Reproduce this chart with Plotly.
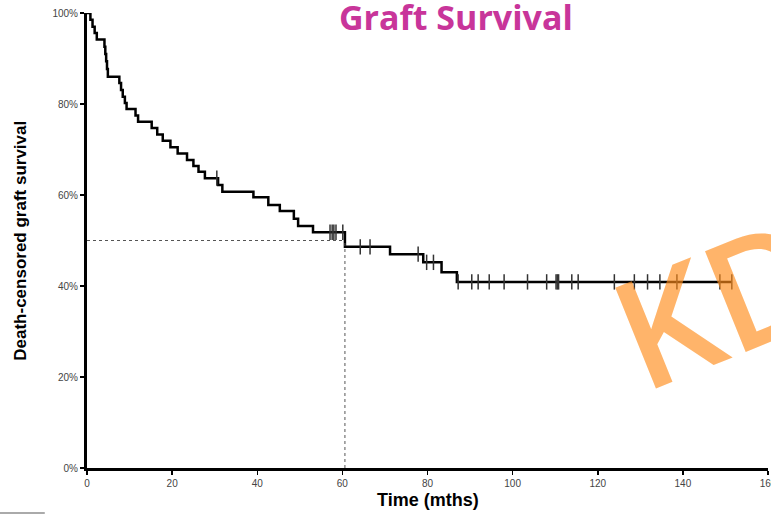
import plotly.graph_objects as go

# ---- data ----
step_times = [0.8, 1.3, 1.8, 2.3, 4.1, 4.3, 4.5, 4.7, 4.9, 7.6, 8.0, 8.4, 8.9, 9.3,
              11.4, 12.0, 15.2, 16.5, 17.8, 19.6, 21.3, 23.5, 25.0, 26.2, 27.7,
              30.8, 31.8, 39.1, 42.6, 45.3, 48.6, 49.6, 53.1, 60.6, 71.2, 79.0,
              83.3, 86.9]
step_surv = [98.5, 97.0, 95.6, 94.2, 92.6, 91.0, 89.4, 87.7, 86.0, 84.6, 83.1, 81.6,
             80.2, 78.9, 77.5, 76.1, 74.7, 73.3, 71.9, 70.5, 69.1, 67.7, 66.4, 65.1,
             63.7, 62.2, 60.7, 59.5, 57.8, 56.5, 54.8, 53.2, 51.8, 48.6, 47.0, 45.2,
             43.0, 40.9]
last_follow_up = 151.5

censor_times = [30.5, 57.1, 57.6, 58.0, 58.5, 60.1, 64.2, 66.5, 77.8, 79.8, 81.4,
                87.2, 90.4, 91.9, 94.5, 98.0, 103.5, 108.0, 110.2, 110.5, 110.8,
                113.9, 115.4, 123.9, 128.6, 131.7, 134.6, 138.6, 148.7, 151.5]
censor_surv = [63.7, 51.8, 51.8, 51.8, 51.8, 51.8, 48.6, 48.6, 47.0, 45.2, 45.2,
               40.9, 40.9, 40.9, 40.9, 40.9, 40.9, 40.9, 40.9, 40.9, 40.9,
               40.9, 40.9, 40.9, 40.9, 40.9, 40.9, 40.9, 40.9, 40.9]

median_time = 60.6
median_level = 50

x_ticks = [0, 20, 40, 60, 80, 100, 120, 140, 160]
y_ticks = [0, 20, 40, 60, 80, 100]
y_tick_labels = ["0%", "20%", "40%", "60%", "80%", "100%"]

title_text = "Graft Survival"
x_title = "Time (mths)"
y_title = "Death-censored graft survival"
watermark = "KD"

# ---- figure ----
curve_x = [0] + step_times + [last_follow_up]
curve_y = [100] + step_surv + [step_surv[-1]]

fig = go.Figure()

fig.add_trace(go.Scatter(
    x=curve_x, y=curve_y, mode="lines", line_shape="hv",
    line=dict(color="black", width=2.5), showlegend=False, hoverinfo="skip"))

fig.add_trace(go.Scatter(
    x=censor_times, y=censor_surv, mode="markers",
    marker=dict(symbol="line-ns", size=11, color="#333333",
                line=dict(color="#333333", width=1.5)),
    showlegend=False, hoverinfo="skip", cliponaxis=False))

# median dotted guides
fig.add_shape(type="line", xref="x", yref="y", x0=0, x1=median_time,
              y0=median_level, y1=median_level,
              line=dict(color="#555555", width=1, dash="dot"))
fig.add_shape(type="line", xref="x", yref="y", x0=median_time, x1=median_time,
              y0=0, y1=median_level,
              line=dict(color="#555555", width=1, dash="dot"))

tick_font = dict(family="Liberation Sans, Arial, sans-serif", size=10, color="#444444")

fig.update_xaxes(range=[0, 160], tickvals=x_ticks, ticks="outside", ticklen=4,
                 tickwidth=1.5, tickcolor="black", showline=True, linewidth=3,
                 linecolor="black", showgrid=False, zeroline=False,
                 tickfont=tick_font, automargin=False, ticklabeloverflow="allow")
fig.update_yaxes(range=[0, 100], tickvals=y_ticks, ticktext=y_tick_labels,
                 ticks="outside", ticklen=4, tickwidth=1.5, tickcolor="black",
                 showline=True, linewidth=3, linecolor="black", showgrid=False,
                 zeroline=False, tickfont=tick_font, automargin=False,
                 ticklabeloverflow="allow")

fig.add_annotation(text=title_text, xref="paper", yref="paper", x=0.542, y=0.992,
                   xanchor="center", yanchor="middle", showarrow=False,
                   font=dict(family="Open Sans, sans-serif", size=34, color="#C8359A",
                             weight="bold"))
fig.add_annotation(text=x_title, xref="paper", yref="paper", x=0.5, y=-0.071,
                   xanchor="center", yanchor="middle", showarrow=False,
                   font=dict(family="Liberation Sans, Arial, sans-serif", size=18,
                             color="black", weight="bold"))
fig.add_annotation(text=y_title, xref="paper", yref="paper", x=-0.098, y=0.5,
                   xanchor="center", yanchor="middle", showarrow=False, textangle=-90,
                   font=dict(family="Liberation Sans, Arial, sans-serif", size=17,
                             color="black", weight="bold"))
fig.add_annotation(text=watermark, xref="paper", yref="paper", x=0.925, y=0.369,
                   xanchor="center", yanchor="middle", showarrow=False, textangle=-22,
                   font=dict(family="Open Sans, sans-serif", size=152, weight=600,
                             color="rgba(255,140,26,0.65)"))

fig.add_shape(type="line", xref="paper", yref="paper", x0=-0.128, x1=-0.062,
              y0=-0.099, y1=-0.099, line=dict(color="#aaaaaa", width=2))

fig.update_layout(width=771, height=515, margin=dict(l=87, r=3, t=13, b=47),
                  paper_bgcolor="white", plot_bgcolor="white")

# remove the default 8px page margin so the figure fills the window exactly
fig.write_html("out.html",
               config={"displayModeBar": False, "staticPlot": True},
               post_script="document.body.style.margin='0';"
                           "document.body.style.overflow='hidden';")
